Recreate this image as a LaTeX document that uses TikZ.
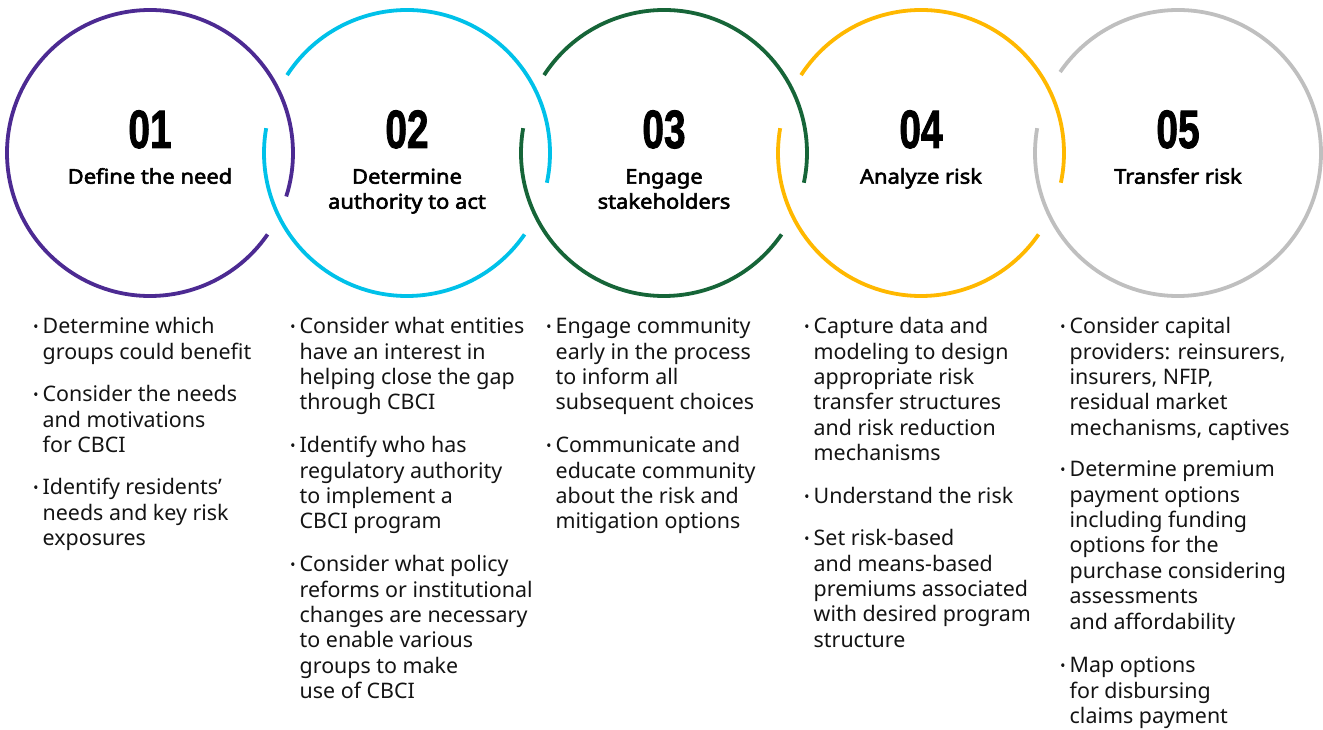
\documentclass[tikz,border=0pt]{standalone}
\usepackage{fontspec}
\setmainfont{Noto Sans}
\newfontfamily\ttlfont{Noto Sans}[FakeBold=2.8, FakeStretch=1.08]
\newfontfamily\dotfont{Noto Sans}[FakeBold=2.6]
\newfontfamily\numfont{Liberation Sans Bold}[FakeBold=1.8]
\usepackage{graphicx}
\definecolor{cA}{RGB}{76,42,146}
\definecolor{cB}{RGB}{0,193,233}
\definecolor{cC}{RGB}{22,101,56}
\definecolor{cD}{RGB}{255,184,0}
\definecolor{cE}{RGB}{191,191,191}
\definecolor{txt}{RGB}{20,20,20}
\newcommand\bul{\strut\makebox[0pt][r]{\dotfont·\hspace{4pt}}}
\tikzset{
  ring/.style={line width=3.8pt},
  num/.style={anchor=base, inner sep=0pt, font=\numfont\fontsize{54}{54}\selectfont},
  ttl/.style={anchor=north, inner sep=0pt, align=center, font=\ttlfont\fontsize{20.3}{25}\selectfont},
  para/.style={anchor=north west, inner sep=0pt, align=left, text=txt, font=\fontsize{21.4}{25.4}\selectfont},
}
\newcommand\numtxt[1]{\scalebox{0.72}[1]{#1}}
\begin{document}
\begin{tikzpicture}[x=1pt,y=-1pt]
\useasboundingbox (0,0) rectangle (1323,730);
% circle centres
\coordinate (k1) at (150,153);
\coordinate (k2) at (407,153);
\coordinate (k3) at (664,153);
\coordinate (k4) at (921,153);
\coordinate (k5) at (1178,153);
% rings (angles measured clockwise on the page)
\draw[ring,cA] (k1) ++(34.7:143) arc[start angle=34.7, end angle=377.7, radius=143];
\draw[ring,cB] (k2) ++(34.7:143) arc[start angle=34.7, end angle=190, radius=143];
\draw[ring,cB] (k2) ++(213:143) arc[start angle=213, end angle=372, radius=143];
\draw[ring,cC] (k3) ++(34.7:143) arc[start angle=34.7, end angle=190, radius=143];
\draw[ring,cC] (k3) ++(213:143) arc[start angle=213, end angle=372, radius=143];
\draw[ring,cD] (k4) ++(34.7:143) arc[start angle=34.7, end angle=190, radius=143];
\draw[ring,cD] (k4) ++(213:143) arc[start angle=213, end angle=372, radius=143];
\draw[ring,cE] (k5) ++(214.5:143) arc[start angle=214.5, end angle=550, radius=143];
% numbers
\node[num] (n1) at (150,148) {\numtxt{01}};
\node[num] (n2) at (407,148) {\numtxt{02}};
\node[num] (n3) at (664,148) {\numtxt{03}};
\node[num] (n4) at (921,148) {\numtxt{04}};
\node[num] (n5) at (1178,148) {\numtxt{05}};
% titles
\node[ttl] (t1) at (150,166) {\strut Define the need};
\node[ttl] (t2) at (407,166) {\strut Determine\\authority to act};
\node[ttl] (t3) at (664,166) {\strut Engage\\stakeholders};
\node[ttl] (t4) at (921,166) {\strut Analyze risk};
\node[ttl] (t5) at (1178,166) {\strut Transfer risk};
% column 1
\node[para] (a1) at (42.5,315.7) {\bul Determine which\\groups could benefit};
\node[para] (a2) at (42.5,383.7) {\bul Consider the needs\\and motivations\\for CBCI};
\node[para] (a3) at (42.5,476.7) {\bul Identify residents’\\needs and key risk\\exposures};
% column 2
\node[para] (b1) at (299.5,315.7) {\bul Consider what entities\\have an interest in\\helping close the gap\\through CBCI};
\node[para] (b2) at (299.5,434.7) {\bul Identify who has\\regulatory authority\\to implement a\\CBCI program};
\node[para] (b3) at (299.5,553.7) {\bul Consider what policy\\reforms or institutional\\changes are necessary\\to enable various\\groups to make\\use of CBCI};
% column 3
\node[para] (c1) at (555.5,315.7) {\bul Engage community\\early in the process\\to inform all\\subsequent choices};
\node[para] (c2) at (555.5,434.7) {\bul Communicate and\\educate community\\about the risk and\\mitigation options};
% column 4
\node[para] (d1) at (813.5,315.7) {\bul Capture data and\\modeling to design\\appropriate risk\\transfer structures\\and risk reduction\\mechanisms};
\node[para] (d2) at (813.5,485.7) {\bul Understand the risk};
\node[para] (d3) at (813.5,527.7) {\bul Set risk-based\\and means-based\\premiums associated\\with desired program\\structure};
% column 5
\node[para] (e1) at (1069.5,315.7) {\bul Consider capital\\providers: reinsurers,\\insurers, NFIP,\\residual market\\mechanisms, captives};
\node[para] (e2) at (1069.5,458.7) {\bul Determine premium\\payment options\\including funding\\options for the\\purchase considering\\assessments\\and affordability};
\node[para] (e3) at (1069.5,654.7) {\bul Map options\\for disbursing\\claims payment};
\end{tikzpicture}
\end{document}
